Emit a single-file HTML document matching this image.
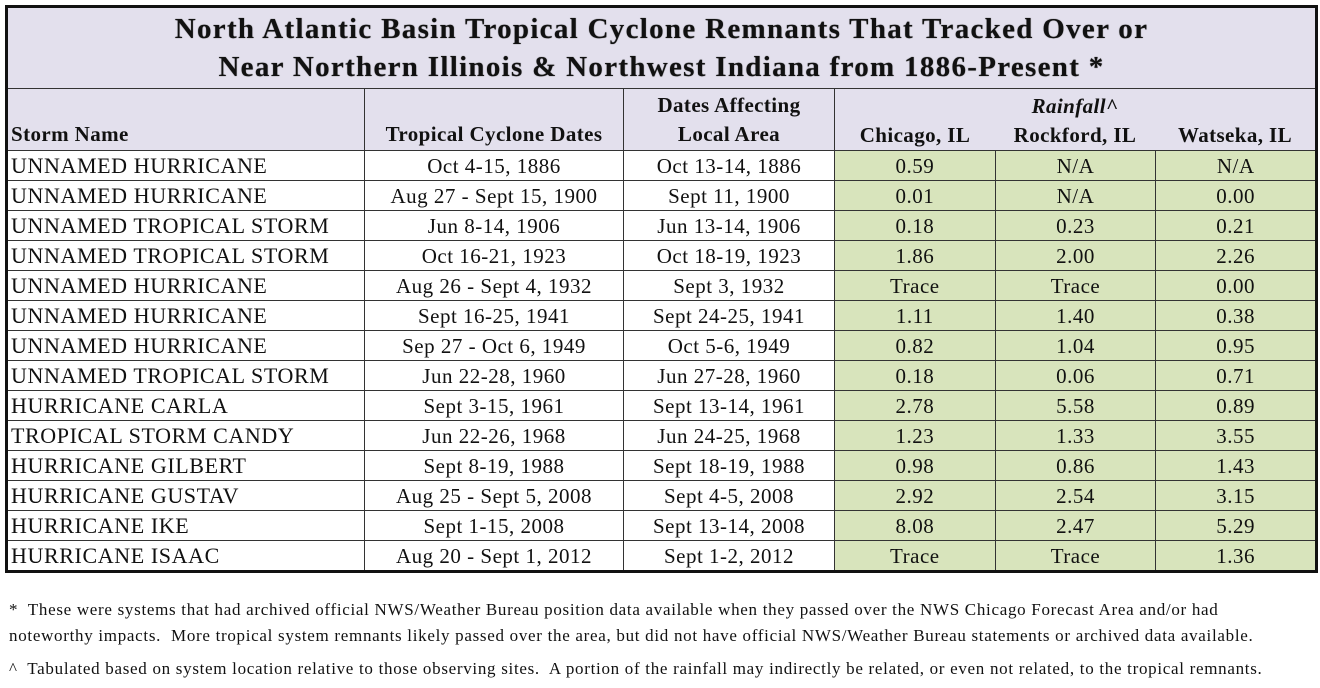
<!DOCTYPE html>
<html><head><meta charset="utf-8"><style>
body{margin:0;background:#fff;width:1320px;height:688px;overflow:hidden;font-family:"Liberation Serif",serif;color:#111}
table{position:absolute;left:5px;top:5px;border-collapse:collapse;table-layout:fixed;border:3px solid #111}
td{border:1px solid #333;padding:0;font-size:21px;letter-spacing:0.5px;height:29px;line-height:28px;text-align:center;white-space:nowrap;overflow:hidden}
td.n{text-align:left;padding-left:3px;font-size:22px;letter-spacing:0.6px}
.g td.r{background:#d8e4bc}
.t{background:#e3e0ed;font-weight:bold;font-size:29px;letter-spacing:1.3px;line-height:38px;height:80px;text-shadow:0 0 1px #555}
.h td{background:#e3e0ed;font-weight:bold;height:60px;font-size:21px;letter-spacing:0.4px;line-height:29px;vertical-align:bottom;padding-bottom:1px}
.f{position:absolute;left:9px;font-size:17px;letter-spacing:0.7px;line-height:26px;white-space:nowrap}
</style></head><body>
<table>
<colgroup><col style="width:358px"><col style="width:259px"><col style="width:211px"><col style="width:160px"><col style="width:160px"><col style="width:160px"></colgroup>
<tr><td class="t" colspan="6">North Atlantic Basin Tropical Cyclone Remnants That Tracked Over or<br>Near Northern Illinois &amp; Northwest Indiana from 1886-Present *</td></tr>
<tr class="h"><td class="n" style="text-align:left;font-size:21px;letter-spacing:0.4px">Storm Name</td><td>Tropical Cyclone Dates</td><td>Dates Affecting<br>Local Area</td><td colspan="3" style="padding:0"><div style="display:flex;flex-direction:column"><i>Rainfall^</i><div style="display:flex"><span style="width:160px">Chicago, IL</span><span style="width:160px">Rockford, IL</span><span style="width:160px">Watseka, IL</span></div></div></td></tr>
<tr class="g"><td class="n">UNNAMED HURRICANE</td><td>Oct 4-15, 1886</td><td>Oct 13-14, 1886</td><td class="r">0.59</td><td class="r">N/A</td><td class="r">N/A</td></tr>
<tr class="g"><td class="n">UNNAMED HURRICANE</td><td>Aug 27 - Sept 15, 1900</td><td>Sept 11, 1900</td><td class="r">0.01</td><td class="r">N/A</td><td class="r">0.00</td></tr>
<tr class="g"><td class="n">UNNAMED TROPICAL STORM</td><td>Jun 8-14, 1906</td><td>Jun 13-14, 1906</td><td class="r">0.18</td><td class="r">0.23</td><td class="r">0.21</td></tr>
<tr class="g"><td class="n">UNNAMED TROPICAL STORM</td><td>Oct 16-21, 1923</td><td>Oct 18-19, 1923</td><td class="r">1.86</td><td class="r">2.00</td><td class="r">2.26</td></tr>
<tr class="g"><td class="n">UNNAMED HURRICANE</td><td>Aug 26 - Sept 4, 1932</td><td>Sept 3, 1932</td><td class="r">Trace</td><td class="r">Trace</td><td class="r">0.00</td></tr>
<tr class="g"><td class="n">UNNAMED HURRICANE</td><td>Sept 16-25, 1941</td><td>Sept 24-25, 1941</td><td class="r">1.11</td><td class="r">1.40</td><td class="r">0.38</td></tr>
<tr class="g"><td class="n">UNNAMED HURRICANE</td><td>Sep 27 - Oct 6, 1949</td><td>Oct 5-6, 1949</td><td class="r">0.82</td><td class="r">1.04</td><td class="r">0.95</td></tr>
<tr class="g"><td class="n">UNNAMED TROPICAL STORM</td><td>Jun 22-28, 1960</td><td>Jun 27-28, 1960</td><td class="r">0.18</td><td class="r">0.06</td><td class="r">0.71</td></tr>
<tr class="g"><td class="n">HURRICANE CARLA</td><td>Sept 3-15, 1961</td><td>Sept 13-14, 1961</td><td class="r">2.78</td><td class="r">5.58</td><td class="r">0.89</td></tr>
<tr class="g"><td class="n">TROPICAL STORM CANDY</td><td>Jun 22-26, 1968</td><td>Jun 24-25, 1968</td><td class="r">1.23</td><td class="r">1.33</td><td class="r">3.55</td></tr>
<tr class="g"><td class="n">HURRICANE GILBERT</td><td>Sept 8-19, 1988</td><td>Sept 18-19, 1988</td><td class="r">0.98</td><td class="r">0.86</td><td class="r">1.43</td></tr>
<tr class="g"><td class="n">HURRICANE GUSTAV</td><td>Aug 25 - Sept 5, 2008</td><td>Sept 4-5, 2008</td><td class="r">2.92</td><td class="r">2.54</td><td class="r">3.15</td></tr>
<tr class="g"><td class="n">HURRICANE IKE</td><td>Sept 1-15, 2008</td><td>Sept 13-14, 2008</td><td class="r">8.08</td><td class="r">2.47</td><td class="r">5.29</td></tr>
<tr class="g"><td class="n">HURRICANE ISAAC</td><td>Aug 20 - Sept 1, 2012</td><td>Sept 1-2, 2012</td><td class="r">Trace</td><td class="r">Trace</td><td class="r">1.36</td></tr>
</table>
<div class="f" style="top:597px">*&nbsp; These were systems that had archived official NWS/Weather Bureau position data available when they passed over the NWS Chicago Forecast Area and/or had<br>noteworthy impacts.&nbsp; More tropical system remnants likely passed over the area, but did not have official NWS/Weather Bureau statements or archived data available.</div>
<div class="f" style="top:656px">^&nbsp; Tabulated based on system location relative to those observing sites.&nbsp; A portion of the rainfall may indirectly be related, or even not related, to the tropical remnants.</div>
</body></html>
